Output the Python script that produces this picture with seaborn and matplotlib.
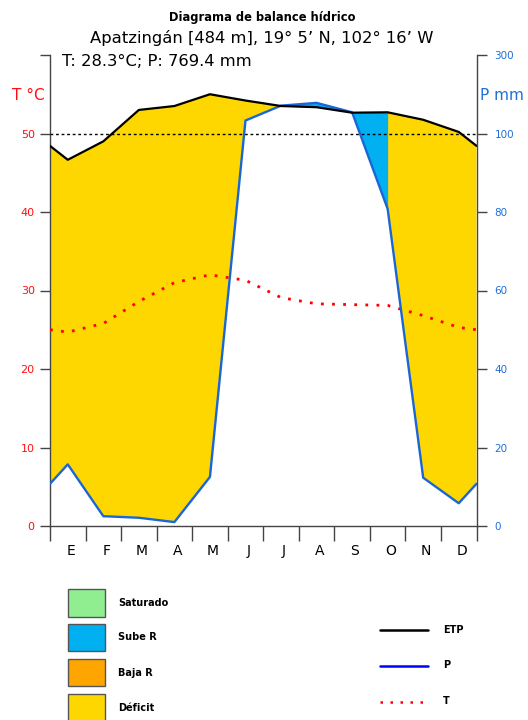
import numpy as np
import pandas as pd
import matplotlib
matplotlib.use('Agg')
import matplotlib.pyplot as plt
import seaborn as sns
from matplotlib.patches import Rectangle
from matplotlib.lines import Line2D

# ---------------- data ----------------
meses = ['E', 'F', 'M', 'A', 'M', 'J', 'J', 'A', 'S', 'O', 'N', 'D']
temperatura = [24.7, 25.8, 28.6, 31.0, 32.0, 31.3, 29.1, 28.3, 28.2, 28.1, 26.8, 25.3]
precipitacion = [15.7, 2.5, 2.1, 1.0, 12.5, 133, 171, 178, 154, 80.8, 12.3, 5.8]
etp = [93.3, 98, 160, 170, 200, 184, 170, 167, 153, 154, 135, 104]
# months (index) between which the reserve is shown as "Sube R" (Sep -> Oct)
tramo_sube_r = (8, 9)

titulo = 'Diagrama de balance hídrico'
estacion = 'Apatzingán [484 m], 19° 5’ N, 102° 16’ W'
resumen = 'T: 28.3°C; P: 769.4 mm'
ticks_t = [0, 10, 20, 30, 40, 50, 60]
ticks_t_lab = ['0', '10', '20', '30', '40', '50', '']
ticks_p = [0, 20, 40, 60, 80, 100, 300]
leyenda_areas = ['Saturado', 'Sube R', 'Baja R', 'Déficit']
colores_areas = ['#90EE90', '#00B0F0', '#FFA500', '#FFD700']
leyenda_lineas = ['ETP', 'P', 'T']

# ---------------- helpers ----------------
def mm_a_t(mm):
    mm = np.asarray(mm, float)
    return np.where(mm <= 100, mm / 2.0, 50 + (mm - 100) / 20.0)

def t_a_mm(t):
    t = np.asarray(t, float)
    return np.where(t <= 50, t * 2.0, 100 + (t - 50) * 20.0)

def extender(v):
    v = np.asarray(v, float)
    borde = (v[0] + v[-1]) / 2.0
    return np.r_[borde, v, borde]

x_mid = np.arange(12) + 0.5
xs = np.r_[0, x_mid, 12]
etp_t = extender(mm_a_t(etp))
p_t = extender(mm_a_t(precipitacion))
t_t = extender(temperatura)

df = pd.DataFrame({
    'x': np.tile(xs, 3),
    'y': np.r_[etp_t, p_t, t_t],
    'serie': ['ETP'] * len(xs) + ['P'] * len(xs) + ['T'] * len(xs),
})

# ---------------- figure ----------------
sns.set_style('ticks')
plt.rcParams['font.family'] = ['DejaVu Sans']
plt.rcParams['text.color'] = 'black'

W, H = 528, 720
fig = plt.figure(figsize=(W / 100, H / 100), dpi=100)

def fx(x):
    return x / W

def fy(y):
    return 1 - y / H

L, R, T, B = 50, 476.5, 55, 526
ax = fig.add_axes([fx(L), fy(B), fx(R - L), (B - T) / H])

GOLD, SKY = colores_areas[3], colores_areas[1]
xx = np.linspace(0, 12, 4801)
e_i = np.interp(xx, xs, etp_t)
p_i = np.interp(xx, xs, p_t)
tramo = (xx >= x_mid[tramo_sube_r[0]]) & (xx <= x_mid[tramo_sube_r[1]])
ax.fill_between(xx, p_i, e_i, where=(e_i > p_i) & ~tramo, color=GOLD, lw=0)
ax.fill_between(xx, p_i, e_i, where=(e_i > p_i) & tramo, color=SKY, lw=0)
ax.fill_between(xx, e_i, p_i, where=(p_i > e_i), color=SKY, lw=0)

ax.axhline(50, color='black', lw=1.0, ls=(0, (2, 2)), zorder=3)

sns.lineplot(data=df[df.serie == 'T'], x='x', y='y', color='#FF0000', lw=2.0,
             ax=ax, zorder=4, sort=False)
ax.lines[-1].set_linestyle((0, (1, 3)))
sns.lineplot(data=df[df.serie == 'P'], x='x', y='y', color='#1A66D6', lw=1.7,
             ax=ax, zorder=5, sort=False)
sns.lineplot(data=df[df.serie == 'ETP'], x='x', y='y', color='black', lw=1.6,
             ax=ax, zorder=6, sort=False)

ax.set_xlim(0, 12)
ax.set_ylim(0, 60)
ax.set_xlabel('')
ax.set_ylabel('')

SP = '#444444'
ax.set_xticks(range(13))
ax.set_xticklabels([])
ax.set_xticks(x_mid + 0.08, minor=True)
ax.set_xticklabels(meses, minor=True, fontsize=10, color='black')
ax.tick_params(axis='x', which='major', length=11, width=1, color=SP, direction='out')
ax.tick_params(axis='x', which='minor', length=0, pad=13)

ax.set_yticks(ticks_t)
ax.set_yticklabels(ticks_t_lab, fontsize=8, color='#FF1010')
ax.tick_params(axis='y', length=7, width=1, color=SP, pad=4)

for s in ['top', 'right']:
    ax.spines[s].set_visible(False)
for s in ['left', 'bottom']:
    ax.spines[s].set_color(SP)
    ax.spines[s].set_linewidth(1)

sec = ax.secondary_yaxis('right', functions=(t_a_mm, mm_a_t))
sec.set_yticks(ticks_p)
sec.set_yticklabels([str(v) for v in ticks_p], fontsize=7.5, color='#1E6FD9')
sec.tick_params(axis='y', length=7, width=1, color=SP, pad=6)
sec.spines['right'].set_color(SP)
sec.spines['right'].set_linewidth(1)

# ---------------- texts ----------------
fig.text(fx(262), fy(17), titulo, ha='center', va='center', fontsize=8.3,
         fontweight='bold', color='black')
fig.text(fx(262), fy(38), estacion, ha='center', va='center', fontsize=11.8, color='black')
fig.text(fx(62), fy(61), resumen, ha='left', va='center', fontsize=11.8, color='black')
fig.text(fx(28), fy(95), 'T °C', ha='center', va='center', fontsize=11, color='#FF1010')
fig.text(fx(502), fy(96), 'P mm', ha='center', va='center', fontsize=11, color='#1E6FD9')

# ---------------- legend ----------------
caja_y = [589, 623.5, 658.5, 694]
for lab, col, y0 in zip(leyenda_areas, colores_areas, caja_y):
    fig.add_artist(Rectangle((fx(67.7), fy(y0 + 27.5)), fx(37.6), 27.5 / H,
                             transform=fig.transFigure, facecolor=col,
                             edgecolor='#555555', lw=1))
    fig.text(fx(118), fy(y0 + 14), lab, ha='left', va='center', fontsize=7,
             fontweight='bold', color='black')

linea_y = [630, 665.5, 701.5]
estilos = [dict(color='black', lw=1.8, ls='-'),
           dict(color='#0000FF', lw=1.8, ls='-'),
           dict(color='#FF0000', lw=1.8, ls=(0, (1, 3)))]
for lab, st, y0 in zip(leyenda_lineas, estilos, linea_y):
    fig.add_artist(Line2D([fx(380), fx(428)], [fy(y0), fy(y0)],
                          transform=fig.transFigure, **st))
    fig.text(fx(443), fy(y0), lab, ha='left', va='center', fontsize=7,
             fontweight='bold', color='black')

fig.savefig('out.png', dpi=100)
